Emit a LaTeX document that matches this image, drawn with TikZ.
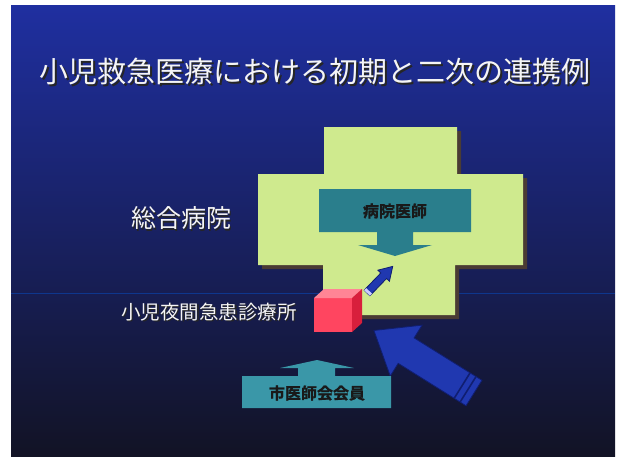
\documentclass[tikz,border=0pt]{standalone}
\usepackage{fontspec}
\newfontfamily\cjk{Noto Sans CJK JP}
\newfontfamily\cjkb[FakeBold=1.2]{Noto Sans CJK JP Bold}
\definecolor{slidetop}{HTML}{1F2FA0}
\definecolor{slidemid}{HTML}{18205E}
\definecolor{slidebot}{HTML}{121325}
\definecolor{crossfill}{HTML}{CFEA8E}
\definecolor{crossshadow}{HTML}{4A3C34}
\definecolor{tealA}{HTML}{2A7E8C}
\definecolor{tealB}{HTML}{3A97A8}
\definecolor{arrowblue}{HTML}{2038B0}
\definecolor{arrowedge}{HTML}{101E70}
\definecolor{cubefront}{HTML}{FF4560}
\definecolor{cubetop}{HTML}{FF8595}
\definecolor{cuberight}{HTML}{D81F3C}
\tikzset{
  whitetext/.style={text=white!92!gray, inner sep=0pt},
  shadowtext/.style={text=black!85, inner sep=0pt},
  calloutA/.style={fill=tealA, draw=none},
  calloutB/.style={fill=tealB, draw=none},
  bluearrow/.style={fill=arrowblue, draw=arrowedge, line width=0.8pt},
}
\begin{document}
\begin{tikzpicture}[x=1pt,y=-1pt]
\useasboundingbox (0,0) rectangle (620,456);
\fill[white] (0,0) rectangle (620,456);
% slide background
\shade[top color=slidetop, middle color=slidemid, bottom color=slidebot] (11,5) rectangle (615,456);
\draw[color=blue!60!cyan, opacity=0.35, line width=0.6pt] (11,293) -- (615,293);

% title
\node[shadowtext, font=\cjk\fontsize{29}{32}\selectfont] at (316.5,73.5) {小児救急医療における初期と二次の連携例};
\node[whitetext, font=\cjk\fontsize{29}{32}\selectfont] (title) at (315,72) {小児救急医療における初期と二次の連携例};

% cross shadow and cross
\fill[crossshadow] (328,131) -- (461,131) -- (461,178) -- (527,178) -- (527,269) -- (459,269) -- (459,319) -- (327,319) -- (327,269) -- (262,269) -- (262,178) -- (328,178) -- cycle;
\fill[crossfill] (324,127) -- (457,127) -- (457,174) -- (523,174) -- (523,265) -- (455,265) -- (455,315) -- (323,315) -- (323,265) -- (258,265) -- (258,174) -- (324,174) -- cycle;

% hospital label
\node[shadowtext, font=\cjk\fontsize{25}{28}\selectfont] at (182.5,219.5) {総合病院};
\node[whitetext, font=\cjk\fontsize{25}{28}\selectfont] (hosp) at (181,218) {総合病院};

% 病院医師 callout
\fill[calloutA] (319,189) -- (471,189) -- (471,232) -- (413,232) -- (413,245) -- (432,245) -- (395,256) -- (358,245) -- (377,245) -- (377,232) -- (319,232) -- cycle;
\node[text=black!90, font=\cjkb\fontsize{16}{18}\selectfont] (doctor) at (395,211) {病院医師};

% small arrow from clinic to hospital
\begin{scope}[shift={(367,293)}, rotate=46]
\fill[bluearrow] (0,-4) -- (24,-4) -- (24,-8) -- (37,0) -- (24,8) -- (24,4) -- (0,4) -- cycle;
\fill[white!80!blue] (0,-4) rectangle (3,4);
\end{scope}

% red cube
\fill[cubefront] (314,298) rectangle (352,332);
\fill[cubetop] (314,298) -- (324,289) -- (362,289) -- (352,298) -- cycle;
\fill[cuberight] (352,298) -- (362,289) -- (362,323) -- (352,332) -- cycle;
\node[inner sep=0pt, minimum size=1pt] (cube) at (338,310) {};

% clinic label
\node[shadowtext, font=\cjk\fontsize{19.5}{22}\selectfont] at (210.5,313.5) {小児夜間急患診療所};
\node[whitetext, font=\cjk\fontsize{19.5}{22}\selectfont] (clinic) at (209,312) {小児夜間急患診療所};

% big blue arrow
\begin{scope}[shift={(474,393)}, rotate=148]
\fill[bluearrow] (0,-15) -- (80,-15) -- (80,-30) -- (118,0) -- (80,30) -- (80,15) -- (0,15) -- cycle;
\draw[arrowedge, line width=1.6pt] (7,-15) -- (7,15);
\draw[arrowedge, line width=1.6pt] (14,-15) -- (14,15);
\end{scope}

% 市医師会会員 callout
\fill[calloutB] (242,376) -- (298,376) -- (298,368) -- (280,368) -- (317,360) -- (354,368) -- (335,368) -- (335,376) -- (391,376) -- (391,408) -- (242,408) -- cycle;
\node[text=black!90, font=\cjkb\fontsize{16}{18}\selectfont] (members) at (317,393) {市医師会会員};
\end{tikzpicture}
\end{document}
